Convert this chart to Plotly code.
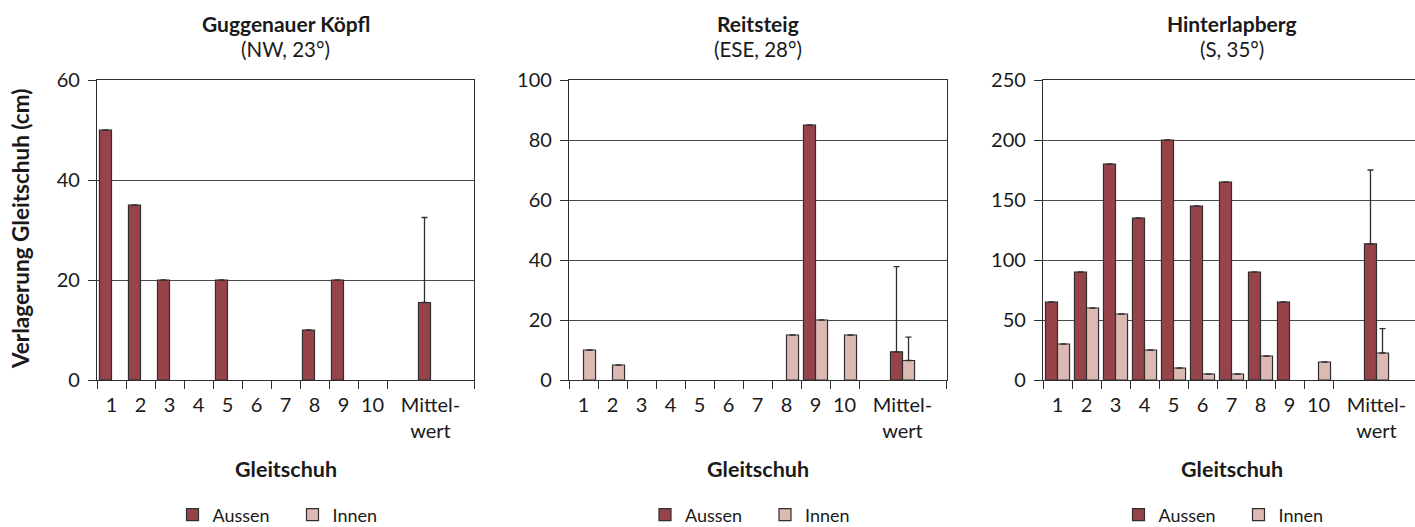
import plotly.graph_objects as go

# ---------------- data ----------------
categories = ["1", "2", "3", "4", "5", "6", "7", "8", "9", "10"]
mean_label = "Mittel-<br>wert"

panel_titles = ["Guggenauer Köpfl", "Reitsteig", "Hinterlapberg"]
panel_subtitles = ["(NW, 23°)", "(ESE, 28°)", "(S, 35°)"]

gk_aussen = [50, 35, 20, 0, 20, 0, 0, 10, 20, 0]
gk_innen = [0, 0, 0, 0, 0, 0, 0, 0, 0, 0]
gk_mean = [15.5, 0]
gk_sd = [17.0, None]

rs_aussen = [0, 0, 0, 0, 0, 0, 0, 0, 85, 0]
rs_innen = [10, 5, 0, 0, 0, 0, 0, 15, 20, 15]
rs_mean = [9.4, 6.5]
rs_sd = [28.4, 7.8]

hl_aussen = [65, 90, 180, 135, 200, 145, 165, 90, 65, 0]
hl_innen = [30, 60, 55, 25, 10, 5, 5, 20, 0, 15]
hl_mean = [113.5, 22.5]
hl_sd = [61.5, 20.3]

y_max = [60, 100, 250]
y_step = [20, 20, 50]

series_names = ["Aussen", "Innen"]
x_title = "Gleitschuh"
y_title = "Verlagerung Gleitschuh (cm)"

# ---------------- styling ----------------
W, H = 1415, 527
FONT = "Lato"
C_AUSSEN = "#96444a"
C_INNEN = "#ddb9b4"
EDGE = "#2f2f2f"
TXT = "#1a1a1a"

# panel geometry in pixels (left, right); plot area top/bottom
panels_px = [(97, 474), (569, 947), (1043, 1420)]
top_px, bot_px = 80, 380
cat_px = 29.0

pos = [i + 1 for i in range(len(categories))]
mean_pos = len(categories) + 2
xvals = pos + [mean_pos]
xtext = categories + [mean_label]
bounds = [p - 0.5 for p in pos] + [pos[-1] + 0.5, mean_pos + 1.5]

data = [
    (gk_aussen, gk_innen, gk_mean, gk_sd),
    (rs_aussen, rs_innen, rs_mean, rs_sd),
    (hl_aussen, hl_innen, hl_mean, hl_sd),
]

fig = go.Figure()
annotations = []

for k, (aus, inn, mean, sd) in enumerate(data):
    ax = "" if k == 0 else str(k + 1)
    leg = "legend" if k == 0 else f"legend{k + 1}"
    for s, (vals, col) in enumerate([(aus, C_AUSSEN), (inn, C_INNEN)]):
        yv = [v if v else None for v in list(vals) + [mean[s]]]
        err = [None] * len(vals) + [sd[s]]
        fig.add_trace(go.Bar(
            x=xvals, y=yv, name=series_names[s],
            marker=dict(color=col, line=dict(color=EDGE, width=1.2)),
            error_y=dict(type="data", symmetric=False, array=err,
                         arrayminus=[0] * len(err), color=EDGE,
                         thickness=1.3, width=3),
            xaxis="x" + ax, yaxis="y" + ax, legend=leg,
            showlegend=True,
        ))

    l, r = panels_px[k]
    rr = min(r, W)
    d0, d1 = l / W, rr / W
    width_units = (rr - l) / cat_px
    cx = (l + r) / 2 / W
    fig.update_layout({
        f"xaxis{ax}": dict(
            domain=[d0, d1], range=[0.5, 0.5 + width_units],
            tickmode="array", tickvals=xvals, ticktext=xtext,
            ticks="outside", ticklen=7, tickcolor="rgba(0,0,0,0)",
            minor=dict(tickmode="array", tickvals=bounds, ticks="outside",
                       ticklen=8, tickwidth=1.3, tickcolor=EDGE,
                       showgrid=False),
            showline=True, linecolor=EDGE, linewidth=1.3,
            mirror=True, showgrid=False, zeroline=False,
            tickfont=dict(family=FONT, size=20, color=TXT),
            anchor="y" + ax, fixedrange=True,
        ),
        f"yaxis{ax}": dict(
            domain=[1 - bot_px / H, 1 - top_px / H],
            range=[0, y_max[k]], dtick=y_step[k], tick0=0,
            showgrid=True, gridcolor="#4a4a4a", gridwidth=1,
            showline=True, linecolor=EDGE, linewidth=1.3,
            mirror=(k < 2), zeroline=False,
            ticks="outside", ticklen=8, tickwidth=1.3, tickcolor=EDGE,
            ticklabelstandoff=4,
            tickfont=dict(family=FONT, size=20, color=TXT),
            anchor="x" + ax, fixedrange=True,
        ),
        leg: dict(
            orientation="h", xref="container", yref="container",
            x=cx + 7 / W, xanchor="center", y=1 - 515 / H, yanchor="middle",
            font=dict(family=FONT, size=18, color=TXT),
            bgcolor="rgba(0,0,0,0)", traceorder="normal",
            entrywidth=75, entrywidthmode="pixels",
        ),
    })

    annotations += [
        dict(x=cx, y=1 - 23 / H, xref="paper", yref="paper",
             text=f"<b>{panel_titles[k]}</b>", showarrow=False,
             font=dict(family=FONT, size=21, color=TXT),
             xanchor="center", yanchor="middle"),
        dict(x=cx, y=1 - 49 / H, xref="paper", yref="paper",
             text=panel_subtitles[k], showarrow=False,
             font=dict(family=FONT, size=20.5, color=TXT),
             xanchor="center", yanchor="middle"),
        dict(x=cx, y=1 - 469 / H, xref="paper", yref="paper",
             text=f"<b>{x_title}</b>", showarrow=False,
             font=dict(family=FONT, size=21.5, color=TXT),
             xanchor="center", yanchor="middle"),
    ]

annotations.append(dict(
    x=20 / W, y=1 - 229 / H, xref="paper", yref="paper",
    text=f"<b>{y_title}</b>", showarrow=False, textangle=-90,
    font=dict(family=FONT, size=22.5, color=TXT),
    xanchor="center", yanchor="middle"))

fig.update_layout(
    width=W, height=H,
    margin=dict(l=0, r=0, t=0, b=0, autoexpand=False),
    paper_bgcolor="white", plot_bgcolor="white",
    barmode="group", bargap=0.17, bargroupgap=0,
    annotations=annotations,
    font=dict(family=FONT, color=TXT),
)

fig.write_html("out.html", config={"displayModeBar": False},
               post_script="document.body.style.margin='0';")
